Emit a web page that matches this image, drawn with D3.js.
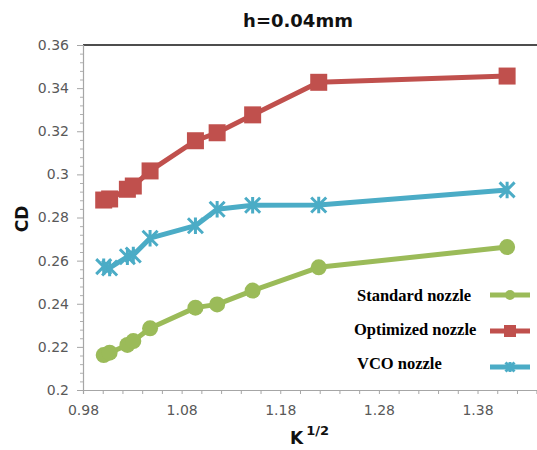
<!DOCTYPE html>
<html>
<head>
<meta charset="utf-8">
<script src="https://cdn.jsdelivr.net/npm/d3@7"></script>
<style>
  html, body { margin: 0; padding: 0; background: #fff; }
  svg { display: block; }
</style>
</head>
<body>
<svg id="chart" width="537" height="450"></svg>
<script>
// K^(1/2) values shared by all three nozzles
const kValues = [1.001, 1.007, 1.025, 1.031, 1.048, 1.094, 1.116, 1.152, 1.219, 1.410];

// Discharge coefficient CD per nozzle
const standardCD  = [0.2162, 0.2173, 0.2209, 0.2227, 0.2286, 0.2382, 0.2397, 0.2461, 0.2569, 0.2663];
const optimizedCD = [0.2881, 0.2886, 0.2931, 0.2946, 0.3016, 0.3156, 0.3193, 0.3276, 0.3427, 0.3456];
const vcoCD       = [0.2572, 0.2566, 0.2618, 0.2626, 0.2704, 0.2762, 0.2838, 0.2857, 0.2858, 0.2928];

const seriesNames = ["Standard nozzle", "Optimized nozzle", "VCO nozzle"];

// Axis ticks
const xMajorTicks = [0.98, 1.08, 1.18, 1.28, 1.38];
const yMajorTicks = [0.2, 0.22, 0.24, 0.26, 0.28, 0.3, 0.32, 0.34, 0.36];

const svg = d3.select("#chart");

const plotLeft = 83, plotRight = 536.7, plotTop = 45, plotBottom = 390;
const x = d3.scaleLinear().domain([0.98, 1.44]).range([plotLeft, plotRight]);
const y = d3.scaleLinear().domain([0.2, 0.36]).range([plotBottom, plotTop]);

const fmt = v => String(+v.toFixed(2));

// Title
svg.append("text")
  .attr("x", 298).attr("y", 27)
  .attr("text-anchor", "middle")
  .attr("font-family", "DejaVu Sans, sans-serif")
  .attr("font-weight", "bold")
  .attr("font-size", 18)
  .attr("fill", "#111")
  .text("h=0.04mm");

// Top border line of the plot area
svg.append("line")
  .attr("x1", plotLeft).attr("x2", plotRight + 0.3)
  .attr("y1", y(0.36)).attr("y2", y(0.36))
  .attr("stroke", "#4d4d4d").attr("stroke-width", 2);

// X axis with minor ticks every 0.02
const xMinor = d3.range(0, 24).map(i => +(0.98 + i * 0.02).toFixed(2));
const xAxis = d3.axisBottom(x)
  .tickValues(xMinor)
  .tickSize(4)
  .tickFormat(d => xMajorTicks.some(m => Math.abs(m - d) < 1e-6) ? fmt(d) : "");
const gx = svg.append("g").attr("transform", `translate(0,${plotBottom})`).call(xAxis);
gx.select(".domain").attr("stroke", "#a6a6a6").attr("stroke-width", 1.2);
gx.selectAll(".tick line").attr("stroke", "#a6a6a6");
gx.selectAll(".tick text")
  .attr("font-family", "DejaVu Sans, sans-serif")
  .attr("font-size", 14)
  .attr("fill", "#595959")
  .attr("dy", "1.25em");

// Y axis: majors labelled, minor ticks every 0.004
const yMinor = d3.range(0, 41).map(i => +(0.2 + i * 0.004).toFixed(3))
  .filter(d => !yMajorTicks.some(m => Math.abs(m - d) < 1e-6));
const gyMinor = svg.append("g").attr("transform", `translate(${plotLeft},0)`)
  .call(d3.axisLeft(y).tickValues(yMinor).tickSize(3).tickFormat(""));
gyMinor.select(".domain").remove();
gyMinor.selectAll(".tick line").attr("stroke", "#b0b0b0");

const gy = svg.append("g").attr("transform", `translate(${plotLeft},0)`)
  .call(d3.axisLeft(y).tickValues(yMajorTicks).tickSize(6).tickPadding(8).tickFormat(fmt));
gy.select(".domain").attr("stroke", "#a6a6a6").attr("stroke-width", 1.2);
gy.selectAll(".tick line").attr("stroke", "#a6a6a6");
gy.selectAll(".tick text")
  .attr("font-family", "DejaVu Sans, sans-serif")
  .attr("font-size", 14)
  .attr("fill", "#595959");

// Axis titles
svg.append("text")
  .attr("transform", "translate(28,219) rotate(-90)")
  .attr("text-anchor", "middle")
  .attr("font-family", "DejaVu Sans, sans-serif")
  .attr("font-weight", "bold")
  .attr("font-size", 17)
  .attr("fill", "#111")
  .text("CD");

const xt = svg.append("text")
  .attr("x", 290).attr("y", 444)
  .attr("font-family", "DejaVu Sans, sans-serif")
  .attr("font-weight", "bold")
  .attr("fill", "#111");
xt.append("tspan").attr("font-size", 17).text("K");
xt.append("tspan").attr("font-size", 13).attr("dx", 3).attr("dy", -9).text("1/2");

// Series
const colors = ["#9bbb59", "#c0504d", "#4bacc6"];
const values = [standardCD, optimizedCD, vcoCD];
const line = d3.line().x(d => x(d[0])).y(d => y(d[1]));

function drawMarker(g, kind, cx, cy, size, color) {
  if (kind === 0) {
    g.append("circle").attr("cx", cx).attr("cy", cy).attr("r", size / 2).attr("fill", color);
  } else if (kind === 1) {
    g.append("rect").attr("x", cx - size / 2).attr("y", cy - size / 2)
      .attr("width", size).attr("height", size).attr("fill", color);
  } else {
    const h = size / 2;
    const path = `M${cx - h},${cy - h}L${cx + h},${cy + h}M${cx - h},${cy + h}L${cx + h},${cy - h}M${cx},${cy - h * 1.1}L${cx},${cy + h * 1.1}`;
    g.append("path").attr("d", path).attr("stroke", color)
      .attr("stroke-width", 3).attr("fill", "none");
  }
}

values.forEach((vals, i) => {
  const pts = kValues.map((k, j) => [k, vals[j]]);
  const g = svg.append("g");
  g.append("path").attr("d", line(pts))
    .attr("fill", "none").attr("stroke", colors[i])
    .attr("stroke-width", 5).attr("stroke-linejoin", "round");
  const sz = i === 0 ? 16 : (i === 1 ? 17 : 15);
  pts.forEach(p => drawMarker(g, i, x(p[0]), y(p[1]), sz, colors[i]));
});

// Legend
const legendText = [[357, 301], [354, 335], [357, 369]];
const legendLineY = [295, 331, 367];
seriesNames.forEach((name, i) => {
  svg.append("text")
    .attr("x", legendText[i][0]).attr("y", legendText[i][1])
    .attr("font-family", "Liberation Serif, Times New Roman, serif")
    .attr("font-weight", "bold")
    .attr("font-size", 16.5)
    .attr("fill", "#000")
    .text(name);
  const g = svg.append("g");
  g.append("line")
    .attr("x1", 490).attr("x2", 530)
    .attr("y1", legendLineY[i]).attr("y2", legendLineY[i])
    .attr("stroke", colors[i]).attr("stroke-width", 5);
  const sz = i === 0 ? 10 : (i === 1 ? 12 : 9);
  drawMarker(g, i, 510, legendLineY[i], sz, colors[i]);
});
</script>
</body>
</html>
